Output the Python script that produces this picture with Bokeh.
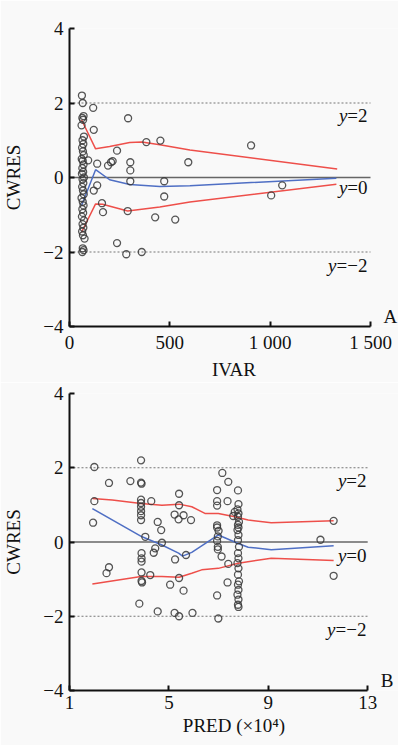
from bokeh.plotting import figure
from bokeh.layouts import column
from bokeh.models import Range1d, FixedTicker, Label
from bokeh.embed import file_html
from bokeh.resources import INLINE

# ---------------- Panel A data (IVAR vs CWRES) ----------------
a_col_x = [62, 66, 70, 64, 68, 60, 72, 65, 69, 63, 67, 71, 61, 66, 70, 64, 68, 62, 72, 65,
           69, 63, 67, 71, 60, 66, 70, 64, 68, 62, 72, 65, 69, 63, 67, 75, 66, 70, 64]
a_col_y = [2.2, 2.0, 1.65, 1.6, 1.55, 1.4, 1.1, 1.0, 0.9, 0.8, 0.7, 0.6, 0.5, 0.45, 0.35,
           0.25, 0.15, 0.1, 0.0, -0.05, -0.15, -0.25, -0.35, -0.45, -0.55, -0.65, -0.75,
           -0.85, -0.95, -1.05, -1.15, -1.25, -1.35, -1.45, -1.55, -1.64, -1.9, -1.95, -2.0]
a_x = [118, 121, 292, 237, 383, 453, 592, 93, 138, 192, 207, 215, 303, 303, 303, 472, 472,
       138, 121, 162, 167, 290, 427, 527, 237, 283, 360, 905, 1060, 1005]
a_y = [1.87, 1.28, 1.59, 0.72, 0.95, 0.99, 0.41, 0.46, 0.37, 0.32, 0.41, 0.44, 0.41, 0.19,
       -0.1, -0.1, -0.51, -0.21, -0.35, -0.69, -0.93, -0.9, -1.07, -1.13, -1.76, -2.06,
       -2.0, 0.86, -0.21, -0.48]
a_up_x = [60, 130, 200, 300, 360, 450, 600, 1334]
a_up_y = [1.55, 0.77, 0.83, 0.94, 0.95, 0.88, 0.74, 0.23]
a_lo_x = [60, 130, 165, 290, 450, 600, 1330]
a_lo_y = [-1.47, -0.71, -0.72, -0.9, -0.79, -0.66, -0.18]
a_mid_x = [60, 130, 200, 300, 450, 600, 1330]
a_mid_y = [-0.75, 0.21, -0.06, -0.19, -0.24, -0.22, -0.02]
a_xticks = [0, 500, 1000, 1500]
a_xlabels = ["0", "500", "1 000", "1 500"]

# ---------------- Panel B data (PRED vs CWRES) ----------------
b_x = [2.0, 2.0, 1.95, 2.59, 3.45, 3.88, 3.88, 3.9,
       3.88, 3.88, 3.88, 3.88, 3.88, 3.88, 4.29, 4.55, 4.69, 4.05, 4.72, 4.45, 4.39,
       3.9, 3.9, 3.9, 5.25, 5.69, 5.41, 5.41, 5.23, 5.39, 5.59, 5.89, 2.59, 2.49,
       3.9, 3.9, 3.92, 4.25, 5.41, 5.05, 5.59, 3.81, 4.55, 5.23, 5.41, 5.95,
       7.15, 7.39, 6.94, 6.94, 6.94, 7.36, 7.65, 7.59, 6.94, 6.97, 6.94, 6.97, 6.97,
       7.12, 7.39, 6.94, 6.99, 6.94, 7.0, 7.36,
       7.78, 7.8, 7.76, 7.8, 7.78, 7.82, 7.78, 7.8, 7.76, 7.8, 7.78, 7.82, 7.78, 7.8,
       7.76, 7.8, 7.78, 7.82, 7.78, 7.8, 7.76, 7.8, 7.78, 7.8,
       11.1, 11.63, 11.63]
b_y = [2.02, 1.10, 0.52, 1.59, 1.64, 2.2, 1.6, 1.57,
       1.14, 1.05, 0.95, 0.83, 0.72, 0.59, 1.10, 0.54, 0.32, 0.14, -0.02, -0.17, -0.29,
       -0.3, -0.44, -0.53, -0.47, -0.35, 1.30, 0.99, 0.74, 0.61, 0.72, 0.59, -0.68, -0.84,
       -0.82, -1.05, -1.09, -0.89, -0.97, -1.15, -1.31, -1.66, -1.87, -1.91, -2.0, -1.91,
       1.86, 1.62, 1.40, 1.10, 0.98, 1.10, 0.81, 0.70, 0.39, 0.15, 0.03, -0.13, -0.2,
       -0.39, -0.59, -1.44, -2.06, 0.45, 0.3, -1.09,
       1.39, 1.02, 0.88, 0.77, 0.68, 0.54, 0.46, 0.39, 0.32, 0.19, 0.05, -0.13, -0.30, -0.44,
       -0.57, -0.71, -0.88, -1.06, -1.15, -1.29, -1.42, -1.55, -1.69, -1.75,
       0.06, 0.57, -0.91]
b_up_x = [1.92, 2.72, 3.88, 4.72, 5.41, 5.92, 6.45, 6.99, 7.65, 8.19, 9.12, 11.63]
b_up_y = [1.17, 1.13, 1.04, 0.99, 1.02, 0.95, 0.77, 0.77, 0.68, 0.59, 0.52, 0.57]
b_lo_x = [1.92, 3.88, 4.72, 5.41, 5.92, 6.32, 6.99, 7.79, 9.12, 11.63]
b_lo_y = [-1.13, -0.93, -0.93, -0.95, -0.84, -0.75, -0.71, -0.57, -0.44, -0.5]
b_mid_x = [1.92, 3.92, 4.72, 5.39, 5.55, 5.92, 6.99, 7.79, 8.19, 9.12, 11.63]
b_mid_y = [0.90, 0.14, -0.08, -0.3, -0.38, -0.28, 0.19, -0.04, -0.14, -0.21, -0.1]
b_xticks = [1, 5, 9, 13]
b_xlabels = ["1", "5", "9", "13"]

y_ticks = [-4, -2, 0, 2, 4]
y_labels = ["\u22124", "\u22122", "0", "2", "4"]
ref_levels = [2, 0, -2]
ref_texts = ["=2", "=0", "=\u22122"]

FONT = "Liberation Serif"
FS = "19px"
BG = "#f9f9f9"
RED = "#ee4f4a"
BLUE = "#4f6fc4"
PT = "#383838"
INK = "#111111"
W = 398


def panel(xr, xticks, xlabels, xlabel, pts, curves, height, left, axis_px, top, bottom,
          label_x, letter, text_dy):
    x0, x1 = xr
    frame_w = W - left
    xend = x0 + (x1 - x0) * frame_w / axis_px
    p = figure(width=W, height=height, output_backend="svg", toolbar_location=None,
               x_range=Range1d(x0, xend), y_range=Range1d(-4, 4),
               min_border_left=left, min_border_right=0, min_border_top=top,
               min_border_bottom=bottom, background_fill_color=BG, border_fill_color=BG,
               outline_line_color=None)
    p.grid.visible = False
    for ax, ticks, labels in ((p.xaxis[0], xticks, xlabels), (p.yaxis[0], y_ticks, y_labels)):
        ax.ticker = FixedTicker(ticks=ticks)
        ax.major_label_overrides = {t: l for t, l in zip(ticks, labels)}
        ax.axis_line_width = 2
        ax.axis_line_color = INK
        ax.major_tick_line_width = 2
        ax.major_tick_line_color = INK
        ax.major_tick_in = 5
        ax.major_tick_out = 0
        ax.minor_tick_line_color = None
        ax.major_label_text_font = FONT
        ax.major_label_text_font_size = FS
        ax.major_label_text_color = INK
        ax.axis_label_text_font = FONT
        ax.axis_label_text_font_size = FS
        ax.axis_label_text_font_style = "normal"
        ax.axis_label_text_color = INK
    p.xaxis.bounds = (x0, x1)
    p.xaxis.axis_label = xlabel
    p.yaxis.axis_label = "CWRES"
    p.xaxis.major_label_standoff = 5
    p.xaxis.axis_label_standoff = 3
    p.yaxis.major_label_standoff = 6
    p.yaxis.axis_label_standoff = 16

    # reference lines y = 2, 0, -2 across the axis extent
    for lv in ref_levels:
        if lv == 0:
            p.segment(x0=[x0], y0=[lv], x1=[x1], y1=[lv], line_color="#666666",
                      line_width=1.5)
        else:
            p.segment(x0=[x0], y0=[lv], x1=[x1], y1=[lv], line_color="#777777",
                      line_width=1.2, line_dash="2 2")

    for (cx, cy), col in zip(curves, (RED, RED, BLUE)):
        p.line(cx, cy, line_color=col, line_width=1.5)

    for px_, py_ in pts:
        p.scatter(px_, py_, marker="circle", size=7, fill_color=None,
                  line_color=PT, line_width=1.3, line_alpha=0.85)

    widths = {"=2": 20, "=0": 20, "=\u22122": 31}
    for lv, t, dy in zip(ref_levels, ref_texts, text_dy):
        p.add_layout(Label(x=label_x, y=lv, text=t, text_align="right", text_baseline="top",
                           y_offset=dy, text_font=FONT, text_font_size=FS,
                           text_color=INK))
        p.add_layout(Label(x=label_x, y=lv, text="y", text_align="right",
                           text_baseline="top", x_offset=-widths[t], y_offset=dy,
                           text_font=FONT, text_font_size=FS, text_font_style="italic",
                           text_color=INK))
    p.add_layout(Label(x=x1, y=-4, text=letter, text_align="left", text_baseline="bottom",
                       x_offset=13, y_offset=0, text_font=FONT, text_font_size=FS,
                       text_color=INK))
    return p


pA = panel((0, 1500), a_xticks, a_xlabels, "IVAR",
           [(a_col_x, a_col_y), (a_x, a_y)],
           [(a_up_x, a_up_y), (a_lo_x, a_lo_y), (a_mid_x, a_mid_y)],
           382, 69, 301, 28, 56, 1485, "A", (-2, 1, -3))
pB = panel((1, 13), b_xticks, b_xlabels, "PRED (\u00d710\u2074)",
           [(b_x, b_y)],
           [(b_up_x, b_up_y), (b_lo_x, b_lo_y), (b_mid_x, b_mid_y)],
           363, 67, 300, 11, 55, 12.95, "B", (-2, -3, -3))

layout = column(pA, pB, spacing=0)
open("out.html", "w").write(file_html(layout, INLINE))
